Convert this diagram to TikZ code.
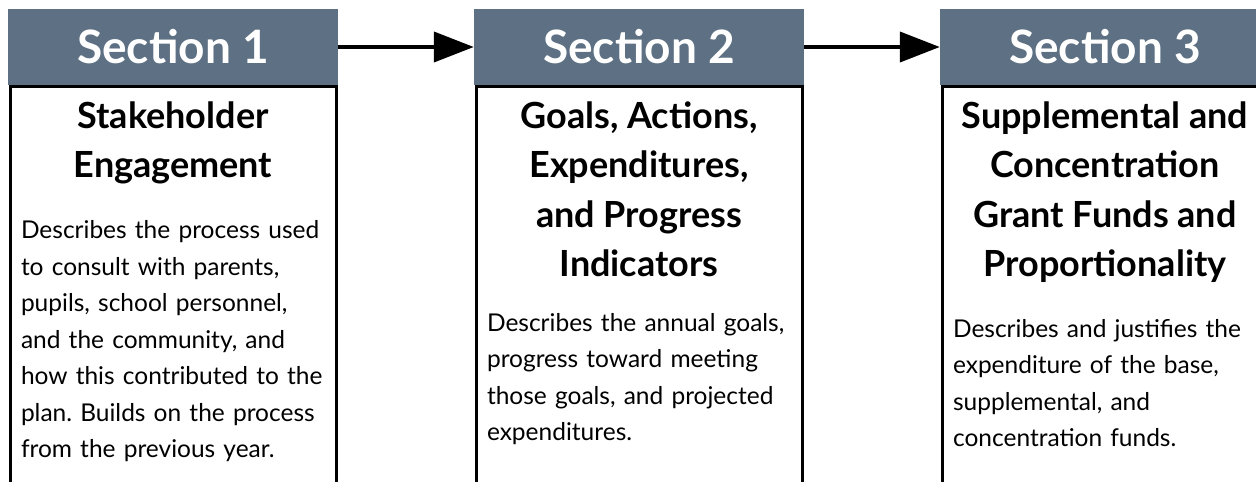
\documentclass[tikz,border=0pt]{standalone}
\usepackage{fontspec}
\setmainfont{Lato}
\usetikzlibrary{positioning, arrows.meta}
\definecolor{slate}{RGB}{94,112,131}
\frenchspacing

\begin{document}
\begin{tikzpicture}[
  x=1pt, y=1pt,
  node distance=12pt,
  header/.style={fill=slate, text=white, font=\fontsize{46}{50}\selectfont\bfseries,
    minimum width=330pt, minimum height=76pt, inner sep=0pt},
  panel/.style={draw=black, line width=3pt, minimum width=326pt,
    minimum height=440pt, inner sep=0pt},
  title/.style={align=center, font=\fontsize{36}{49.5}\selectfont\bfseries, inner sep=0pt},
  desc/.style={align=left, text width=304pt, font=\fontsize{24.5}{36.5}\selectfont,
    inner sep=0pt},
  arrow/.style={-{Triangle[length=40pt, width=30pt]}, line width=4pt},
]
  \clip (0,0) rectangle (1256,-482);

  % Headers
  \node[header] (sec1) at (173,-47)  {Section 1};
  \node[header] (sec2) at (639,-47)  {Section 2};
  \node[header] (sec3) at (1105,-47) {Section 3};

  % Panels
  \node[panel, anchor=north] (box1) at (sec1.south) {};
  \node[panel, anchor=north] (box2) at (sec2.south) {};
  \node[panel, anchor=north] (box3) at (sec3.south) {};

  % Titles
  \node[title, below=16pt of box1.north] (ttl1) {Stakeholder\\Engagement};
  \node[title, below=16pt of box2.north] (ttl2) {Goals, Actions,\\Expenditures,\\and Progress\\Indicators};
  \node[title, below=16pt of box3.north] (ttl3) {Supplemental and\\Concentration\\Grant Funds and\\Proportionality};

  % Descriptions
  \node[desc, below=36pt of ttl1] (txt1) {Describes the process used\\to consult with parents,\\pupils, school personnel,\\and the community, and\\how this contributed to the\\plan. Builds on the process\\from the previous year.};
  \node[desc, below=36pt of ttl2] (txt2) {Describes the annual goals,\\progress toward meeting\\those goals, and projected\\expenditures.};
  \node[desc, below=36pt of ttl3] (txt3) {Describes and justifies the\\expenditure of the base,\\supplemental, and\\concentration funds.};

  % Arrows between sections
  \foreach \a/\b in {sec1/sec2, sec2/sec3}
    \draw[arrow] (\a) -- (\b);
\end{tikzpicture}
\end{document}
